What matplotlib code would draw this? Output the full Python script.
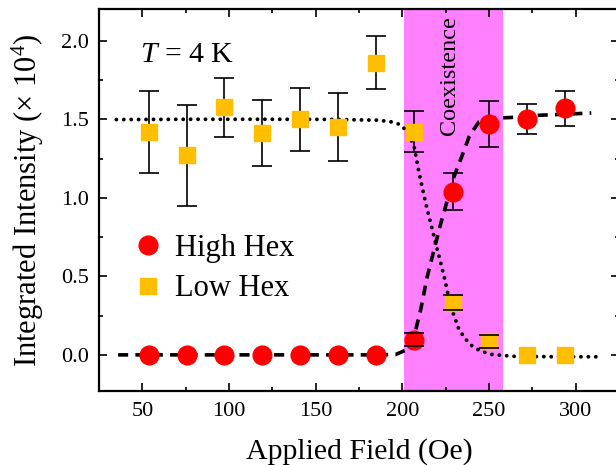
import numpy as np
import matplotlib
matplotlib.use("Agg")
import matplotlib.pyplot as plt
from matplotlib.ticker import MultipleLocator

plt.rcParams['font.family'] = ['Liberation Serif', 'DejaVu Serif']
plt.rcParams['mathtext.fontset'] = 'custom'
plt.rcParams['mathtext.rm'] = 'Liberation Serif'
plt.rcParams['mathtext.it'] = 'Liberation Serif:italic'

# ---- data ----
field = [54, 76, 97, 119, 141, 163, 185, 207, 229, 250, 272, 294]
high_hex = [0, 0, 0, 0, 0, 0, 0, 0.097, 1.04, 1.468, 1.50, 1.57]
high_err = [0, 0, 0, 0, 0, 0, 0, 0.042, 0.12, 0.147, 0.096, 0.113]
low_hex = [1.42, 1.27, 1.575, 1.41, 1.50, 1.45, 1.86, 1.42, 0.333, 0.086, 0, 0]
low_err = [0.26, 0.32, 0.19, 0.21, 0.20, 0.215, 0.17, 0.13, 0.045, 0.042, 0, 0]

# fit curves
high_fit_x = [36, 60, 100, 140, 180, 196, 202, 206.8, 210.6, 214.4, 218.3, 222.2,
              226.0, 229.8, 234.6, 238.5, 241.5, 244.2, 247, 250, 255, 262.5,
              279.8, 294.2, 309]
high_fit_y = [0, 0, 0, 0, 0, 0.002, 0.03, 0.118, 0.288, 0.50, 0.669, 0.838,
              0.986, 1.134, 1.272, 1.388, 1.44, 1.483, 1.497, 1.505, 1.508, 1.511,
              1.526, 1.532, 1.54]
low_fit_x = [35, 80, 120, 160, 185.5, 193, 198.7, 203, 206.8, 209.7, 213.5, 217.3,
             221.2, 224.1, 227.9, 232.7, 236.5, 240.4, 245, 251.9, 265.4, 290, 314]
low_fit_y = [1.498, 1.5, 1.5, 1.499, 1.494, 1.485, 1.467, 1.42, 1.325, 1.156, 0.965,
             0.796, 0.626, 0.50, 0.309, 0.161, 0.10, 0.055, 0.025, 0.002, -0.01,
             -0.012, -0.012]

coexist_range = (201, 258)

red = '#FF0000'
orange = '#FFBF00'
pink = '#FF80FF'

fig = plt.figure(figsize=(6.16, 4.65), dpi=100)
ax = fig.add_axes([99 / 616, 1 - 391 / 465, 520 / 616, 381.7 / 465])

ax.axvspan(*coexist_range, color=pink, lw=0, zorder=0)
ax.text(227, 2.155, 'Coexistence', rotation=90, ha='center', va='top',
        fontsize=17.5, zorder=1)

ax.plot(high_fit_x, high_fit_y, color='black', lw=2.6, ls=(0, (2.8, 2.0)),
        zorder=2)
ax.plot(low_fit_x, low_fit_y, color='black', lw=2.8, ls=(0, (0.01, 1.9)),
        dash_capstyle='round', zorder=2)


def errbars(x, y, e):
    e = np.array(e, dtype=float)
    e = np.where(e > 0, e, np.nan)
    _, caps, bars = ax.errorbar(x, y, yerr=e, fmt='none', ecolor='black',
                                elinewidth=1.2, capsize=7, capthick=1.2,
                                zorder=3)
    for c in caps:
        c.set_zorder(5)


errbars(field, high_hex, high_err)
errbars(field, low_hex, low_err)

ax.plot(field, high_hex, 'o', ms=13.5, color=red, mec=red, zorder=4,
        label='High Hex')
ax.plot(field, low_hex, 's', ms=12, color=orange, mec=orange, zorder=4,
        label='Low Hex')

ax.set_xlim(25, 325)
ax.set_ylim(-0.23, 2.2)
ax.xaxis.set_major_locator(MultipleLocator(50))
ax.xaxis.set_minor_locator(MultipleLocator(25))
ax.yaxis.set_major_locator(MultipleLocator(0.5))
ax.yaxis.set_minor_locator(MultipleLocator(0.25))
ax.yaxis.set_major_formatter(matplotlib.ticker.FormatStrFormatter('%.1f'))
ax.tick_params(which='both', direction='in', top=True, right=True,
               labelsize=16, width=1.2)
ax.tick_params(axis='x', pad=8)
ax.tick_params(axis='y', pad=7)
ax.tick_params(which='major', length=6)
ax.tick_params(which='minor', length=3)
for s in ax.spines.values():
    s.set_linewidth(1.6)

ax.set_xlabel('Applied Field (Oe)', fontsize=21.5, labelpad=12)
ax.set_ylabel('Integrated Intensity (× 10$^4$)', fontsize=22, labelpad=11)

ax.text(0.079, 0.861, '$T$ = 4 K', transform=ax.transAxes, fontsize=21.5,
        ha='left', va='baseline')

ax.legend(loc='upper left', bbox_to_anchor=(0.071, 0.411), frameon=False,
          fontsize=22, handlelength=0.8, handletextpad=0.48, labelspacing=0.365,
          borderpad=0, borderaxespad=0, markerscale=1)

fig.savefig('out.png', dpi=100)
